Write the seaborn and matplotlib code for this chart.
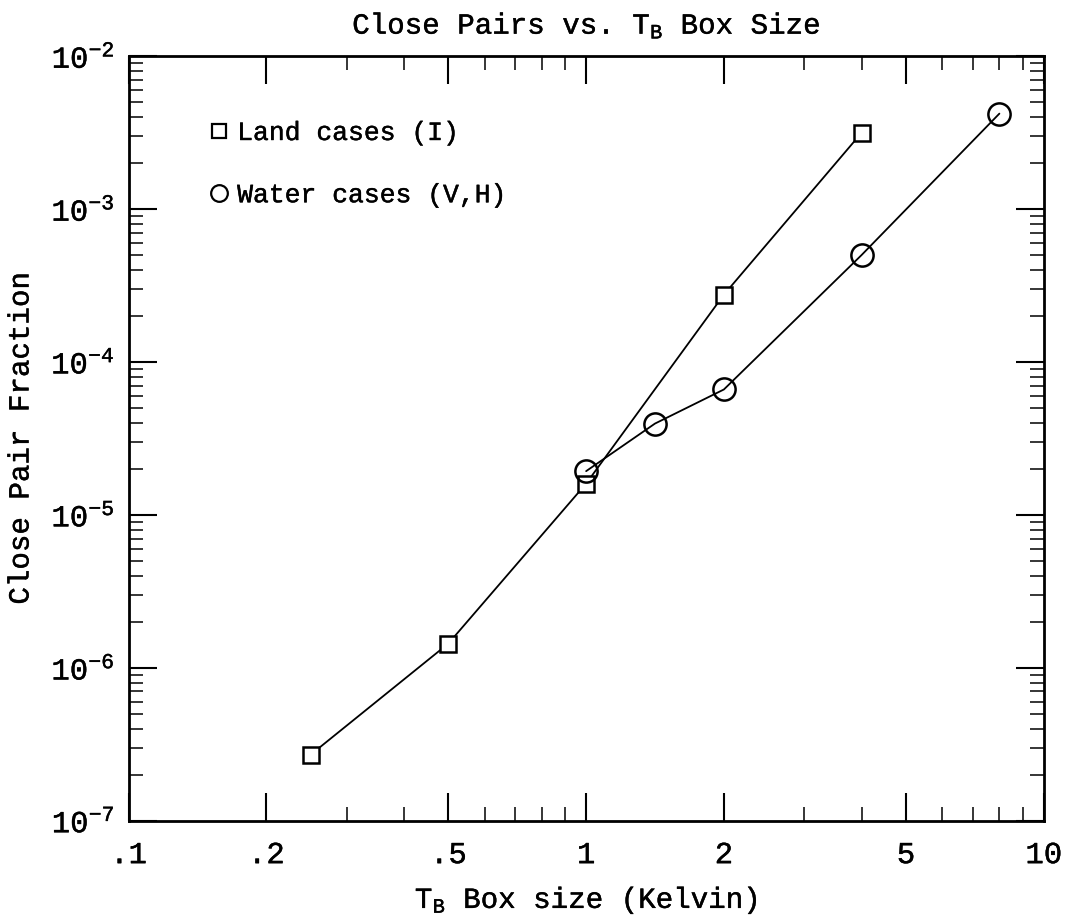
import numpy as np
import pandas as pd
import matplotlib
matplotlib.use("Agg")
import matplotlib.pyplot as plt
import matplotlib.patheffects as pe
import seaborn as sns
from matplotlib.lines import Line2D
from matplotlib.ticker import FixedLocator, FixedFormatter, NullFormatter

# ---- data ----
land_x = [0.25, 0.5, 1.0, 2.0, 4.0]
land_y = [2.7e-7, 1.44e-6, 1.6e-5, 2.75e-4, 3.15e-3]
water_x = [1.0, 1.414, 2.0, 4.0, 8.0]
water_y = [1.93e-5, 3.95e-5, 6.6e-5, 5.0e-4, 4.2e-3]
series_names = ["Land cases (I)", "Water cases (V,H)"]
x_major = [0.1, 0.2, 0.5, 1, 2, 5, 10]
x_major_labels = [".1", ".2", ".5", "1", "2", "5", "10"]
x_minor = [0.3, 0.4, 0.6, 0.7, 0.8, 0.9, 3, 4, 6, 7, 8, 9]
y_major = [1e-7, 1e-6, 1e-5, 1e-4, 1e-3, 1e-2]
y_major_labels = [r"$\mathregular{10^{-7}}$", r"$\mathregular{10^{-6}}$", r"$\mathregular{10^{-5}}$",
                  r"$\mathregular{10^{-4}}$", r"$\mathregular{10^{-3}}$", r"$\mathregular{10^{-2}}$"]

sns.set_theme(style="ticks")
plt.rcParams["font.family"] = ["Liberation Mono", "DejaVu Sans Mono"]
plt.rcParams["mathtext.fontset"] = "custom"
plt.rcParams["mathtext.rm"] = "Liberation Mono"
plt.rcParams["text.color"] = "black"
plt.rcParams["axes.labelcolor"] = "black"
plt.rcParams["font.weight"] = "normal"

df = pd.DataFrame({
    "x": land_x + water_x,
    "y": land_y + water_y,
    "series": [series_names[0]] * len(land_x) + [series_names[1]] * len(water_x),
})

fig = plt.figure(figsize=(10.92, 9.18), dpi=100)
ax = fig.add_axes([0.1177, 0.106, 0.8381, 0.833])
ax.set_xscale("log")
ax.set_yscale("log")

sns.lineplot(data=df[df.series == series_names[0]], x="x", y="y", ax=ax,
             color="black", linewidth=1.3, marker="s", markersize=12,
             markerfacecolor="white", markeredgecolor="black", markeredgewidth=1.8,
             sort=False, legend=False, zorder=3)
sns.lineplot(data=df[df.series == series_names[1]], x="x", y="y", ax=ax,
             color="black", linewidth=1.3, marker="o", markersize=16,
             markerfacecolor="none", markeredgecolor="black", markeredgewidth=1.8,
             sort=False, legend=False, zorder=4)

ax.set_xlim(0.1, 10)
ax.set_ylim(1e-7, 1e-2)

ax.xaxis.set_major_locator(FixedLocator(x_major))
ax.xaxis.set_major_formatter(FixedFormatter(x_major_labels))
ax.xaxis.set_minor_locator(FixedLocator(x_minor))
ax.xaxis.set_minor_formatter(NullFormatter())

ax.yaxis.set_major_locator(FixedLocator(y_major))
ax.yaxis.set_major_formatter(FixedFormatter(y_major_labels))
ax.yaxis.set_minor_locator(matplotlib.ticker.LogLocator(base=10, subs=np.arange(2, 10), numticks=20))
ax.yaxis.set_minor_formatter(NullFormatter())

ax.tick_params(which="major", direction="in", length=20, width=1.5,
               top=True, right=True, labelsize=22, colors="black")
ax.tick_params(which="minor", direction="in", length=10, width=1.3,
               top=True, right=True)
ax.tick_params(axis="x", which="major", pad=14)
ax.tick_params(axis="y", which="major", pad=10)

for s in ax.spines.values():
    s.set_visible(True)
    s.set_linewidth(2)
    s.set_color("black")

ax.set_title(r"Close Pairs vs. T$_\mathregular{B}$ Box Size", fontsize=21, pad=16,
             fontweight="normal")
ax.set_xlabel(r"T$_\mathregular{B}$ Box size (Kelvin)", fontsize=21, labelpad=10,
              fontweight="normal")
ax.set_ylabel("Close Pair Fraction", fontsize=21, labelpad=12, fontweight="normal")

handles = [
    Line2D([], [], linestyle="none", marker="s", markersize=10, markerfacecolor="white",
           markeredgecolor="black", markeredgewidth=1.6),
    Line2D([], [], linestyle="none", marker="o", markersize=12, markerfacecolor="white",
           markeredgecolor="black", markeredgewidth=1.6),
]
leg = ax.legend(handles, series_names, loc="upper left", bbox_to_anchor=(0.087, 0.915),
                frameon=False, prop={"size": 19, "weight": "normal"}, handlelength=0.8,
                handletextpad=0.3, labelspacing=1.45, borderpad=0, borderaxespad=0)

thick = [pe.withStroke(linewidth=0.3, foreground="black")]
texts = (ax.get_xticklabels() + ax.get_yticklabels() + leg.get_texts()
         + [ax.title, ax.xaxis.label, ax.yaxis.label])
for t in texts:
    t.set_path_effects(thick)

fig.savefig("out.png", dpi=100)
